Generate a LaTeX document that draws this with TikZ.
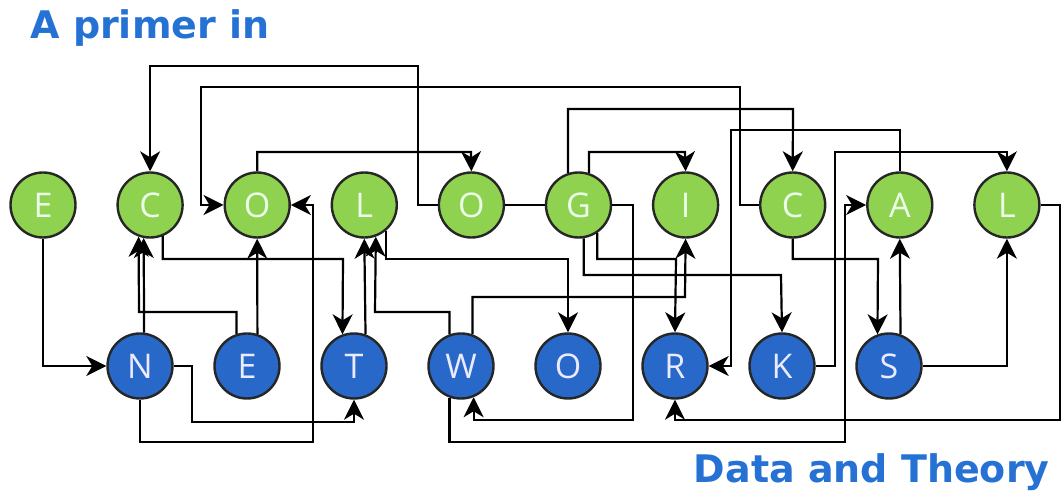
\documentclass[tikz,border=0pt]{standalone}
\usepackage{fontspec}
\setmainfont{Open Sans}
\newfontfamily\titlefont{DejaVu Sans}
\usetikzlibrary{arrows.meta}
\definecolor{leafgreen}{RGB}{143,210,80}
\definecolor{netblue}{RGB}{40,104,200}
\definecolor{titleblue}{RGB}{38,114,212}

\begin{document}
\begin{tikzpicture}[x=0.5pt,y=-0.5pt,
    ball/.style={circle,draw=black!85,line width=1.2pt,minimum size=32.5pt,inner sep=0pt,
      font=\fontsize{17}{17}\selectfont},
    greenball/.style={ball,fill=leafgreen,text=green!8},
    blueball/.style={ball,fill=netblue,text=blue!8},
    headline/.style={inner sep=0pt,text=titleblue,font=\titlefont\bfseries\fontsize{19}{19}\selectfont},
    arr/.style={-{Stealth[length=10pt,width=10pt,inset=3pt]},line width=1.1pt},
    link/.style={line width=1.1pt}]
  \useasboundingbox (0,0) rectangle (1062,497);
  % Draw the titles
  \node[headline,anchor=base west] (head) at (30,39) {A primer in};
  \node[headline,anchor=base east] (foot) at (1050,483) {Data and Theory};
  % Draw the two rows of letters
  \foreach \name/\lab [count=\i from 0] in {e1/E,c1/C,o1/O,l1/L,o2/O,g/G,i/I,c2/C,a/A,l2/L}
    \node[greenball] (\name) at ({43+107.1*\i},205) {\lab};
  \foreach \name/\lab [count=\i from 0] in {n/N,e2/E,t/T,w/W,o3/O,r/R,k/K,s/S}
    \node[blueball] (\name) at ({140+107*\i},366) {\lab};
  % Draw the links
  \draw[arr] (e1.south) |- (n.west);
  \draw[arr] (n.83) -- (c1.-101);
  \draw[arr] (e2.108) |- (139,312) -- (c1.-110);
  \draw[arr] (c1.-68) |- (343,259) -- (t.110);
  \draw[arr] (e2.72) -- (o1.south);
  \draw[arr] (n.east) -- (192,366) |- (354,422) -- (t.south);
  \draw[arr] (n.south) |- (313,442) |- (o1.east);
  \draw[arr] (c2.west) -| (740,87) -| (201,205) -- (o1.west);
  \draw[arr] (o2.west) -| (418,66) -| (c1.north);
  \draw[arr] (o1.north) |- (471,152) -- (o2.north);
  \draw[link] (o2.east) -- (g.west);
  \draw[arr] (g.108) |- (793,109) -- (c2.north);
  \draw[arr] (g.72) |- (685,152) -- (i.north);
  \draw[arr] (g.east) -| (633,420) -| (w.-68);
  \draw[arr] (g.-56) |- (676,259) -- (r.north);
  \draw[arr] (g.-81) |- (781,275) -- (k.north);
  \draw[arr] (a.north) |- (731,130) |- (r.east);
  \draw[arr] (k.east) -| (835,152) -| (l2.north);
  \draw[arr] (w.-110) |- (845,442) |- (a.west);
  \draw[arr] (l2.east) -| (1060,420) -| (r.south);
  \draw[arr] (c2.south) |- (878,259) -- (s.110);
  \draw[arr] (s.70) -- (a.south);
  \draw[arr] (s.east) -| (l2.south);
  \draw[arr] (t.70) -- (l1.south);
  \draw[arr] (w.110) |- (375,312) -- (l1.-70);
  \draw[arr] (l1.-50) |- (568,259) -- (o3.north);
  \draw[arr] (w.70) |- (685,297) -- (i.south);
\end{tikzpicture}
\end{document}
